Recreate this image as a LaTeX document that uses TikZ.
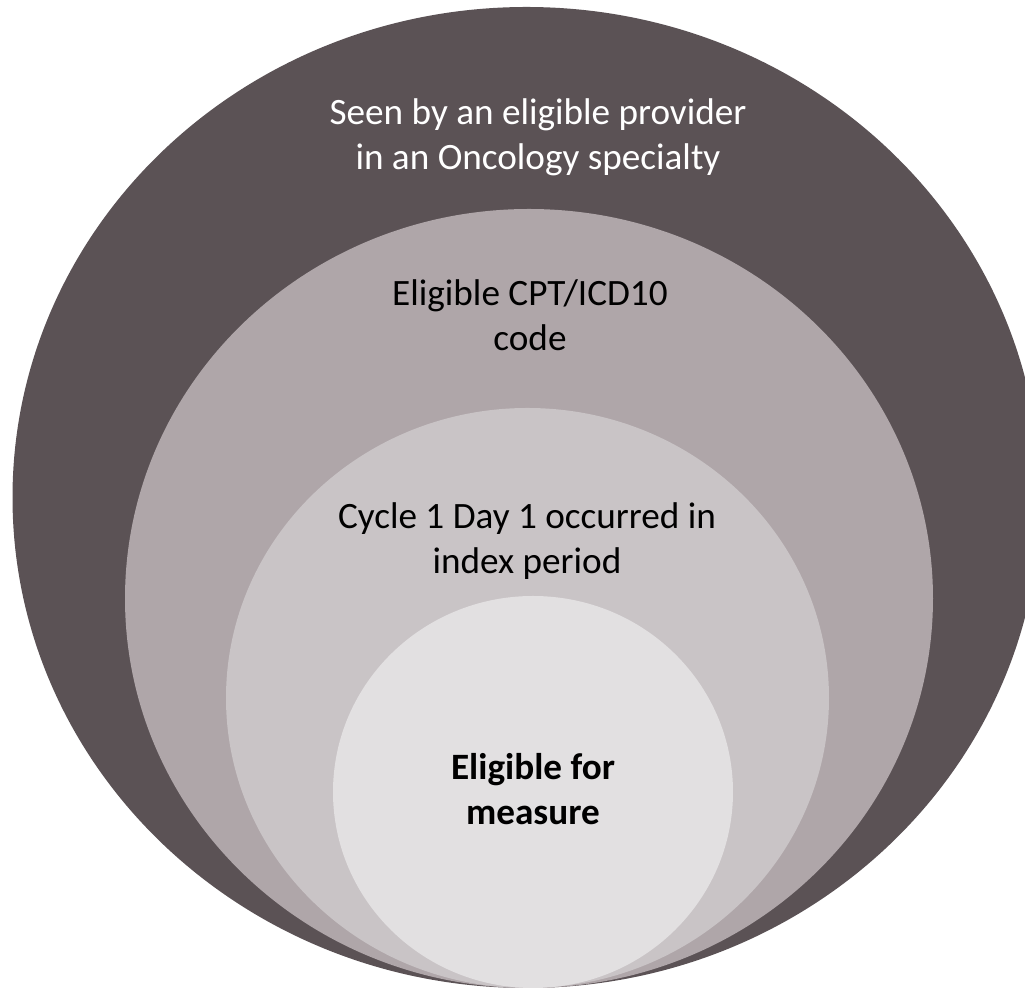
\documentclass[tikz,border=0pt]{standalone}
\usepackage{fontspec}
\setmainfont{Carlito}
\definecolor{ringouter}{HTML}{5B5255}
\definecolor{ringcode}{HTML}{AFA6A9}
\definecolor{ringcycle}{HTML}{C9C4C6}
\definecolor{ringinner}{HTML}{E2E0E1}
\begin{document}
\begin{tikzpicture}[x=0.5pt,y=0.5pt,
  ringtext/.style={align=center, inner sep=0pt, font=\fontsize{18.6}{22.5}\selectfont}]
  \useasboundingbox (0,0) rectangle (1025,990);
  \clip (0,0) rectangle (1025,990);
  % nested rings, all touching at the bottom
  \fill [ringouter] (526.5,492.5) ellipse [x radius=514,   y radius=490.5];
  \fill [ringcode]  (529,391.5)   ellipse [x radius=404,   y radius=389.5];
  \fill [ringcycle] (527.5,292)   ellipse [x radius=301.5, y radius=290];
  \fill [ringinner] (533,198)     ellipse [x radius=200,   y radius=196];
  % labels
  \node [ringtext, text=white] (seen)  at (538,852.5) {Seen by an eligible provider\\in an Oncology specialty};
  \node [ringtext]             (code)  at (530,674.5) {Eligible CPT/ICD10\\code};
  \node [ringtext]             (cycle) at (527,448.5) {Cycle 1 Day 1 occurred in\\index period};
  \node [ringtext, font=\fontsize{18.6}{22.5}\selectfont\bfseries] (measure) at (533,200.5) {Eligible for\\measure};
\end{tikzpicture}
\end{document}
